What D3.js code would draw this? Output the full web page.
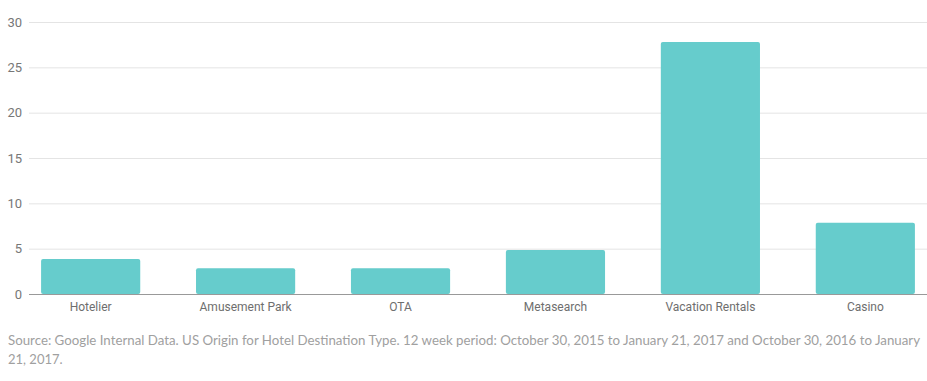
<!DOCTYPE html>
<html>
<head>
<meta charset="utf-8">
<script src="https://cdnjs.cloudflare.com/ajax/libs/d3/7.8.5/d3.min.js"></script>
<style>
  body { margin: 0; background: #fff; }
  #chart { width: 927px; height: 381px; }
</style>
</head>
<body>
<div id="chart"></div>
<script>
// Chart data
const categories = ["Hotelier", "Amusement Park", "OTA", "Metasearch", "Vacation Rentals", "Casino"];
const values = [3.85, 2.85, 2.85, 4.85, 27.8, 7.85];
const yTicks = [0, 5, 10, 15, 20, 25, 30];
const sourceLines = [
  "Source: Google Internal Data. US Origin for Hotel Destination Type. 12 week period: October 30, 2015 to January 21, 2017 and October 30, 2016 to January",
  "21, 2017."
];

const W = 927, H = 381;
const margin = {top: 22, right: 0, bottom: 87, left: 29};
const width = W - margin.left - margin.right,
      height = H - margin.top - margin.bottom;

const svg = d3.select("#chart")
    .append("svg")
    .attr("width", W)
    .attr("height", H);

const g = svg.append("g")
    .attr("transform", `translate(${margin.left},${margin.top})`);

// Scales
const x = d3.scaleBand()
    .domain(categories)
    .range([0, width])
    .paddingInner(0.36)
    .paddingOuter(0.078);

const y = d3.scaleLinear().domain([0, 30]).range([height, 0]);

// Gridlines
g.selectAll(".grid")
    .data(yTicks.filter(d => d > 0))
    .enter().append("line")
    .attr("x1", 0)
    .attr("x2", width)
    .attr("y1", d => y(d) + 0.5)
    .attr("y2", d => y(d) + 0.5)
    .attr("stroke", "#e4e4e4")
    .attr("stroke-width", 1);

// Y tick labels
g.selectAll(".ylab")
    .data(yTicks)
    .enter().append("text")
    .attr("x", -7)
    .attr("y", d => y(d))
    .attr("dy", "0.35em")
    .attr("text-anchor", "end")
    .style("font-family", "Roboto, sans-serif")
    .style("font-size", "13px")
    .style("fill", "#777")
    .text(d => d);

// Bars
g.selectAll(".bar")
    .data(values)
    .enter().append("rect")
    .attr("x", (d, i) => x(categories[i]))
    .attr("y", d => y(d))
    .attr("width", x.bandwidth())
    .attr("height", d => y(0) - y(d))
    .attr("rx", 2)
    .attr("fill", "#66cccc");

// Baseline axis
g.append("line")
    .attr("x1", 0)
    .attr("x2", width)
    .attr("y1", y(0) + 0.5)
    .attr("y2", y(0) + 0.5)
    .attr("stroke", "#999")
    .attr("stroke-width", 1);

// Category labels
g.selectAll(".xlab")
    .data(categories)
    .enter().append("text")
    .attr("x", d => x(d) + x.bandwidth() / 2)
    .attr("y", height + 17)
    .attr("text-anchor", "middle")
    .style("font-family", "Roboto, sans-serif")
    .style("font-size", "12px")
    .style("fill", "#6e6e6e")
    .text(d => d);

// Source note
svg.selectAll(".src")
    .data(sourceLines)
    .enter().append("text")
    .attr("x", 8)
    .attr("y", (d, i) => 345 + i * 19)
    .attr("textLength", (d, i) => i === 0 ? 912 : null)
    .attr("lengthAdjust", "spacingAndGlyphs")
    .style("font-family", "Lato, sans-serif")
    .style("font-size", "13px")
    .style("fill", "#a0a0a0")
    .text(d => d);
</script>
</body>
</html>
